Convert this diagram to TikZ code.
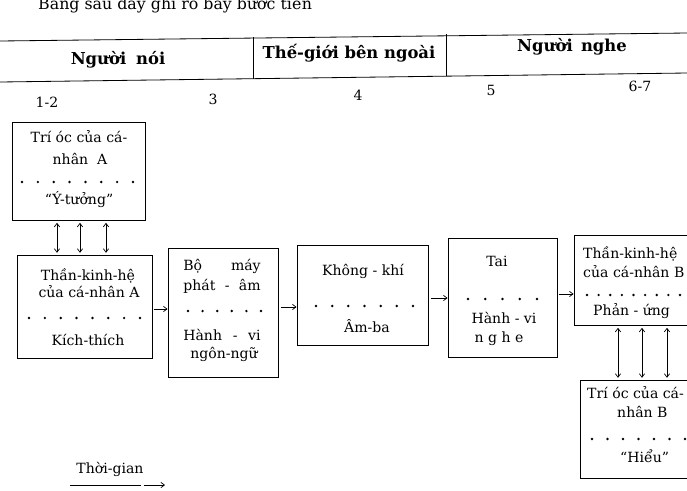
\documentclass[tikz,border=0pt]{standalone}
\usepackage{fontspec}
\setmainfont{DejaVu Serif}
\usetikzlibrary{arrows.meta,fit}

% a row of n dots between x0 and x1 at height y
\newcommand\dotrow[4]{%
  \foreach \i in {0,...,\numexpr#3-1\relax}
    \fill ({#1+\i*(#2-#1)/(#3-1)},#4) circle (1.15pt);}

\begin{document}
\begin{tikzpicture}[x=0.03cm,y=-0.03cm,
  box/.style={draw, line width=0.8pt, inner sep=0pt},
  lbl/.style={inner sep=0pt, anchor=base, font=\fontsize{12}{14}\selectfont},
  lblw/.style={lbl, anchor=base west},
  hd/.style={inner sep=0pt, anchor=base, font=\fontsize{14}{16}\selectfont\bfseries},
  num/.style={inner sep=0pt, anchor=base, font=\fontsize{12}{14}\selectfont},
  rule/.style={line width=0.7pt},
  tip/.style={-{Straight Barb[length=3pt,width=4.5pt]}, line width=0.6pt},
  dtip/.style={{Straight Barb[length=3pt,width=4.5pt]}-{Straight Barb[length=3pt,width=4.5pt]}, line width=0.6pt},
]
\useasboundingbox (0,0) rectangle (687,490);
\clip (0,0) rectangle (687,490);

% caption line above the table, running off the top edge
\node[lblw, font=\fontsize{13.5}{15}\selectfont] (cap) at (38,9) {Bảng sau đây ghi rõ bảy bước tiến};

% table header
\draw[rule] (0,41) -- (687,33);
\draw[rule] (0,82) -- (687,73);
\draw[rule] (253,37) -- (253,79);
\draw[rule] (446,34) -- (446,76);
\node[hd] (h1) at (118,64) {Người\hspace{0.6em}nói};
\node[hd] (h2) at (349,58) {Thế-giới bên ngoài};
\node[hd] (h3) at (572,51) {Người\hspace{0.5em}nghe};

% step numbers
\node[num] (n1) at (47,107) {1-2};
\node[num] (n2) at (213,104) {3};
\node[num] (n3) at (358,100) {4};
\node[num] (n4) at (491,95) {5};
\node[num] (n5) at (640,91) {6-7};

% boxes
\node[box, fit={(12,122) (145,220)}] (b1) {};
\node[box, fit={(17,255) (152,358)}] (b2) {};
\node[box, fit={(168,248) (278,377)}] (b3) {};
\node[box, fit={(297,245) (428,345)}] (b4) {};
\node[box, fit={(448,238) (557,357)}] (b5) {};
\node[box, fit={(574,235) (720,325)}] (b6) {};
\node[box, fit={(580,380) (720,478)}] (b7) {};

% box 1
\node[lbl] (t11) at (79,142) {Trí óc của cá-};
\node[lbl] (t12) at (80,164) {nhân~~A};
\dotrow{22}{133}{8}{182}
\node[lbl] (t13) at (79,204) {“Ý-tưởng”};

% box 2
\node[lbl] (t21) at (88,280) {Thần-kinh-hệ};
\node[lbl] (t22) at (89,297) {của cá-nhân A};
\dotrow{29}{140}{8}{318}
\node[lbl] (t23) at (88,345) {Kích-thích};

% box 3
\node[lbl] (t31) at (222,270) {\makebox[2.32cm][s]{Bộ máy}};
\node[lbl] (t32) at (222,290) {\makebox[2.32cm][s]{phát - âm}};
\dotrow{188}{261}{6}{311}
\node[lbl] (t33) at (222,340) {\makebox[2.32cm][s]{Hành - vi}};
\node[lbl] (t34) at (224,358) {ngôn-ngữ};

% box 4
\node[lbl] (t41) at (363,275) {Không - khí};
\dotrow{316}{413}{7}{306}
\node[lbl] (t42) at (367,332) {Âm-ba};

% box 5
\node[lbl] (t51) at (497,266) {Tai};
\dotrow{468}{537}{5}{299}
\node[lbl] (t52) at (504,323) {Hành - vi};
\node[lbl] (t53) at (499,342) {n g h e};

% box 6
\node[lblw] (t61) at (583,258) {Thần-kinh-hệ};
\node[lblw] (t62) at (583,277) {của cá-nhân B};
\dotrow{587}{680}{9}{295}
\node[lblw] (t63) at (593,315) {Phản - ứng};

% box 7
\node[lblw] (t71) at (587,398) {Trí óc của cá-};
\node[lblw] (t72) at (617,417) {nhân B};
\dotrow{592}{685}{7}{439}
\node[lblw] (t73) at (620,462) {“Hiểu”};

% links between boxes
\foreach \x in {57,80,106}
  \draw[dtip, shorten <=2pt, shorten >=1.5pt] (b1.south -| \x,0) -- (b2.north -| \x,0);
\foreach \x in {618,642,667}
  \draw[dtip, shorten <=2pt, shorten >=1.5pt] (b6.south -| \x,0) -- (b7.north -| \x,0);
\draw[tip, shorten <=1pt] (b2.east |- 0,309) -- (b3.west |- 0,309);
\draw[tip, shorten <=2pt] (b3.east |- 0,307) -- (b4.west |- 0,307);
\draw[tip, shorten <=2pt] (b4.east |- 0,298) -- (b5.west |- 0,298);
\draw[tip, shorten <=1pt] (b5.east |- 0,294) -- (b6.west |- 0,294);

% time axis
\node[lbl] (tg) at (110,473) {Thời-gian};
\coordinate (ta) at (70,485);
\coordinate (tb) at (141,485);
\coordinate (tc) at (144,485);
\coordinate (td) at (165,485);
\draw[line width=0.6pt] (ta) -- (tb);
\draw[tip] (tc) -- (td);
\end{tikzpicture}
\end{document}
